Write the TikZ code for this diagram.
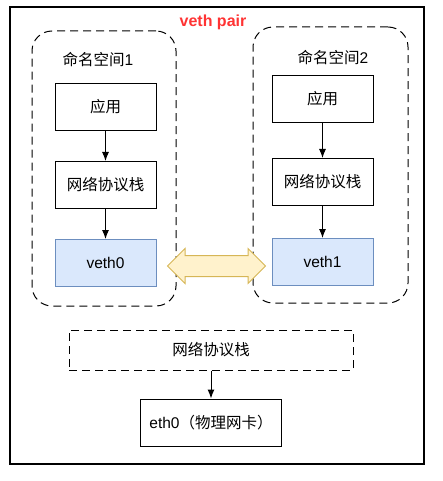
\documentclass[tikz,border=0pt]{standalone}
\usepackage{fontspec}
\setmainfont{Liberation Sans}
\newfontfamily\cjk{Noto Sans CJK SC}
\usepackage{xcolor}
\usetikzlibrary{shapes,arrows,arrows.meta,positioning}
\definecolor{vethFill}{HTML}{DAE8FC}
\definecolor{vethLine}{HTML}{6C8EBF}
\definecolor{pairFill}{HTML}{FFF2CC}
\definecolor{pairLine}{HTML}{D6B656}
\definecolor{pairRed}{HTML}{FF3333}

\tikzset{
  txt/.style={font=\fontsize{15.5}{18}\selectfont},
  box/.style={draw, line width=1pt, minimum width=101pt, minimum height=47pt, inner sep=0pt, txt},
  vethbox/.style={box, draw=vethLine, fill=vethFill},
  nsbox/.style={draw, line width=1pt, dash pattern=on 8pt off 5pt, rounded corners=20pt},
  flow/.style={-{Latex[length=9pt,width=7pt]}, line width=1pt}
}

\begin{document}
\begin{tikzpicture}[x=1pt, y=-1pt, node distance=30pt]
  \useasboundingbox (0,0) rectangle (443,481);
  \draw[line width=1.2pt] (10,7) rectangle (424,464);

  \node[font=\fontsize{16}{18}\selectfont\bfseries, text=pairRed] (title) at (213,22) {veth pair};

  % namespace 1
  \node[nsbox, minimum width=144pt, minimum height=275pt] (ns1) at (104,168.5) {};
  \node[txt] (ns1lbl) at (98,60) {{\cjk 命名空间}1};
  \node[box] (app1) at (105.5,107) {\cjk 应用};
  \node[box, below=of app1] (stack1) {\cjk 网络协议栈};
  \node[vethbox, below=of stack1] (veth0) {veth0};

  % namespace 2
  \node[nsbox, minimum width=155pt, minimum height=276pt] (ns2) at (330.5,165) {};
  \node[txt] (ns2lbl) at (333,58) {{\cjk 命名空间}2};
  \node[box] (app2) at (322.5,99) {\cjk 应用};
  \node[box, below=35pt of app2] (stack2) {\cjk 网络协议栈};
  \node[vethbox, below=32pt of stack2] (veth1) {veth1};

  \draw[flow] (app1) -- (stack1);
  \draw[flow] (stack1) -- (veth0);
  \draw[flow] (app2) -- (stack2);
  \draw[flow] (stack2) -- (veth1);

  % the pair
  \node[double arrow, draw=pairLine, fill=pairFill, line width=1pt, inner xsep=0pt, inner ysep=10pt,
        minimum width=34pt, minimum height=98pt, double arrow head extend=7pt] (pair) at (216.5,266) {};

  % host side
  \node[box, dashed, dash pattern=on 8pt off 5pt, minimum width=284pt, minimum height=40pt] (hoststack) at (211,350) {\cjk 网络协议栈};
  \node[box, minimum width=141pt, below=28pt of hoststack] (eth0) {eth0{\cjk （物理网卡）}};
  \draw[flow] (hoststack) -- (eth0);
\end{tikzpicture}
\end{document}
